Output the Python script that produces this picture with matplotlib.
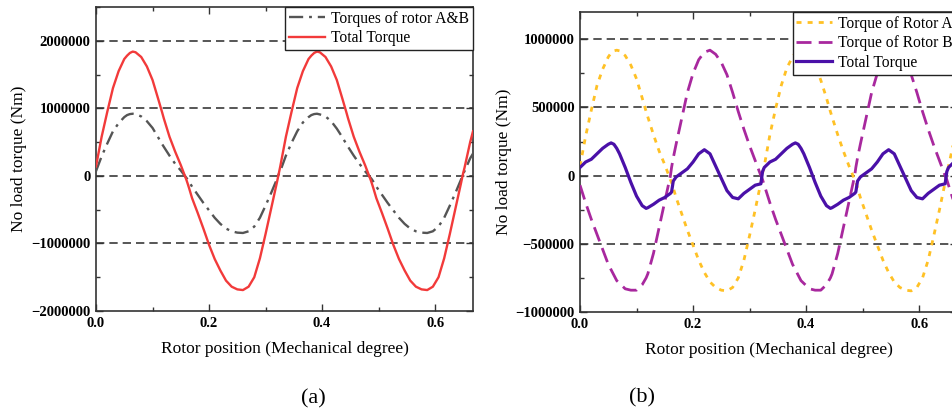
import numpy as np
import matplotlib
matplotlib.use('Agg')
import matplotlib.pyplot as plt
from matplotlib.ticker import MultipleLocator, ScalarFormatter

# rotor position (mechanical degree), shared by both panels
rotor_pos = [0.000, 0.010, 0.020, 0.030, 0.040, 0.050, 0.055, 0.060, 0.065, 0.070,
             0.080, 0.090, 0.100, 0.110, 0.117, 0.120, 0.130, 0.140, 0.150, 0.160,
             0.162, 0.165, 0.170, 0.180, 0.190, 0.200, 0.210, 0.220, 0.230, 0.240,
             0.250, 0.260, 0.270, 0.280, 0.290, 0.300, 0.310, 0.320, 0.323,
             0.326, 0.336, 0.346, 0.356, 0.366, 0.376, 0.381, 0.386, 0.391, 0.396,
             0.406, 0.416, 0.426, 0.436, 0.443, 0.446, 0.456, 0.466, 0.476, 0.486,
             0.488, 0.491, 0.496, 0.506, 0.516, 0.526, 0.536, 0.546, 0.556, 0.566,
             0.576, 0.586, 0.596, 0.606, 0.616, 0.626, 0.636, 0.646, 0.649,
             0.652, 0.662, 0.667]

# (a) torques in MNm
torque_ab = [0.07, 0.29, 0.48, 0.66, 0.78, 0.87, 0.90, 0.915, 0.92, 0.915,
             0.88, 0.81, 0.71, 0.57, 0.47, 0.43, 0.30, 0.18, 0.08, -0.03,
             -0.05, -0.09, -0.16, -0.28, -0.40, -0.51, -0.62, -0.71, -0.78, -0.82,
             -0.84, -0.845, -0.82, -0.75, -0.62, -0.44, -0.25, -0.05, 0.02,
             0.07, 0.30, 0.49, 0.66, 0.79, 0.87, 0.90, 0.915, 0.92, 0.91,
             0.88, 0.81, 0.70, 0.57, 0.47, 0.43, 0.30, 0.18, 0.07, -0.03,
             -0.05, -0.09, -0.16, -0.28, -0.40, -0.51, -0.62, -0.71, -0.78, -0.82,
             -0.84, -0.845, -0.82, -0.75, -0.62, -0.44, -0.25, -0.05, 0.02,
             0.07, 0.26, 0.33]
total_a = [0.14, 0.58, 0.95, 1.30, 1.55, 1.73, 1.78, 1.82, 1.84, 1.83,
           1.76, 1.62, 1.42, 1.14, 0.94, 0.85, 0.58, 0.36, 0.16, -0.06,
           -0.11, -0.19, -0.33, -0.55, -0.78, -1.02, -1.23, -1.40, -1.55, -1.64,
           -1.68, -1.69, -1.64, -1.50, -1.22, -0.86, -0.48, -0.10, 0.02,
           0.14, 0.58, 0.95, 1.30, 1.55, 1.73, 1.78, 1.82, 1.84, 1.83,
           1.76, 1.62, 1.42, 1.14, 0.94, 0.85, 0.58, 0.36, 0.16, -0.06,
           -0.11, -0.19, -0.33, -0.55, -0.78, -1.02, -1.23, -1.40, -1.55, -1.64,
           -1.68, -1.69, -1.64, -1.50, -1.22, -0.86, -0.48, -0.10, 0.02,
           0.12, 0.50, 0.66]

# (b) torques in MNm
torque_a = [0.07, 0.29, 0.48, 0.66, 0.78, 0.87, 0.90, 0.915, 0.92, 0.915,
            0.88, 0.81, 0.71, 0.57, 0.47, 0.43, 0.30, 0.18, 0.08, -0.03,
            -0.05, -0.09, -0.16, -0.28, -0.40, -0.51, -0.62, -0.71, -0.78, -0.82,
            -0.84, -0.845, -0.82, -0.75, -0.62, -0.44, -0.25, -0.05, 0.02,
            0.07, 0.30, 0.49, 0.66, 0.79, 0.87, 0.90, 0.915, 0.92, 0.91,
            0.88, 0.81, 0.70, 0.57, 0.47, 0.43, 0.30, 0.18, 0.07, -0.03,
            -0.05, -0.09, -0.16, -0.28, -0.40, -0.51, -0.62, -0.71, -0.78, -0.82,
            -0.84, -0.845, -0.82, -0.75, -0.62, -0.44, -0.25, -0.05, 0.02,
            0.07, 0.26, 0.33]
torque_b = [-0.07, -0.20, -0.32, -0.43, -0.54, -0.65, -0.69, -0.73, -0.77, -0.79,
            -0.83, -0.84, -0.84, -0.80, -0.75, -0.72, -0.57, -0.38, -0.19, 0.00,
            0.06, 0.13, 0.23, 0.42, 0.61, 0.75, 0.85, 0.905, 0.92, 0.89,
            0.83, 0.74, 0.61, 0.47, 0.34, 0.22, 0.11, 0.00, -0.03,
            -0.07, -0.20, -0.32, -0.43, -0.54, -0.65, -0.69, -0.73, -0.77, -0.79,
            -0.83, -0.84, -0.84, -0.80, -0.75, -0.72, -0.57, -0.38, -0.19, 0.00,
            0.06, 0.13, 0.23, 0.42, 0.61, 0.75, 0.85, 0.905, 0.92, 0.89,
            0.83, 0.74, 0.61, 0.47, 0.34, 0.22, 0.11, 0.00, -0.03,
            -0.07, -0.20, -0.26]
total_b = [0.06, 0.10, 0.12, 0.16, 0.20, 0.23, 0.24, 0.23, 0.20, 0.16,
           0.06, -0.05, -0.15, -0.22, -0.24, -0.235, -0.21, -0.18, -0.16, -0.13,
           -0.12, -0.04, -0.01, 0.02, 0.05, 0.10, 0.16, 0.19, 0.16, 0.07,
           -0.02, -0.11, -0.16, -0.17, -0.13, -0.10, -0.07, -0.06, 0.03,
           0.06, 0.10, 0.12, 0.16, 0.20, 0.23, 0.24, 0.23, 0.20, 0.16,
           0.06, -0.05, -0.15, -0.22, -0.24, -0.235, -0.21, -0.18, -0.16, -0.13,
           -0.12, -0.04, -0.01, 0.02, 0.05, 0.10, 0.16, 0.19, 0.16, 0.07,
           -0.02, -0.11, -0.16, -0.17, -0.13, -0.10, -0.07, -0.06, 0.03,
           0.06, 0.10, 0.11]

x = np.array(rotor_pos)
mnm = 1e6

plt.rcParams['font.family'] = ['Liberation Serif', 'DejaVu Serif']
plt.rcParams['axes.unicode_minus'] = True

fig = plt.figure(figsize=(9.52, 4.2), dpi=100)
ax1 = fig.add_axes([96 / 952, 1 - 311 / 420, 377 / 952, 304 / 420])
ax2 = fig.add_axes([580 / 952, 1 - 312 / 420, 377 / 952, 300 / 420])

grid_kw = dict(color='#3a3a3a', lw=1.2, dashes=(5, 3), zorder=1)


def style_axes(ax, ymaj, ymin):
    ax.set_xlim(0, 0.667)
    ax.xaxis.set_major_locator(MultipleLocator(0.2))
    ax.xaxis.set_minor_locator(MultipleLocator(0.1))
    ax.yaxis.set_major_locator(MultipleLocator(ymaj))
    ax.yaxis.set_minor_locator(MultipleLocator(ymin))
    fmt = ScalarFormatter(useOffset=False)
    fmt.set_scientific(False)
    ax.yaxis.set_major_formatter(fmt)
    ax.tick_params(which='both', direction='in', top=True, right=True,
                   color='#333333', width=1.0)
    ax.tick_params(which='major', length=5, pad=4)
    ax.tick_params(which='minor', length=3)
    for lab in ax.get_xticklabels() + ax.get_yticklabels():
        lab.set_fontweight('bold')
        lab.set_fontsize(10.5)
    for sp in ax.spines.values():
        sp.set_color('#333333')
        sp.set_linewidth(1.2)
    ax.set_xlabel('Rotor position (Mechanical degree)', fontsize=12.5, labelpad=8)
    ax.set_ylabel('No load torque (Nm)', fontsize=12.5)


# panel (a)
ax1.set_ylim(-2000000, 2500000)
for yv in [-1000000, 0, 1000000, 2000000]:
    ax1.axhline(yv, **grid_kw)
ax1.plot(x, np.array(torque_ab) * mnm, color='#555555', lw=1.7,
         dashes=(6, 2.5, 1.2, 2.5), label='Torques of rotor A&B', zorder=3)
ax1.plot(x, np.array(total_a) * mnm, color='#f23a3a', lw=1.7,
         label='Total Torque', zorder=4)
style_axes(ax1, 1000000, 500000)
ax1.yaxis.set_label_coords(-0.183, 0.5)

# panel (b)
ax2.set_ylim(-1000000, 1200000)
for yv in [-500000, 0, 500000, 1000000]:
    ax2.axhline(yv, **grid_kw)
ax2.plot(x, np.array(torque_a) * mnm, color='#ffc125', lw=2.0,
         dashes=(1.8, 2.2), label='Torque of Rotor A', zorder=3)
ax2.plot(x, np.array(torque_b) * mnm, color='#a8289e', lw=2.0,
         dashes=(5.4, 2.6), label='Torque of Rotor B', zorder=3)
ax2.plot(x, np.array(total_b) * mnm, color='#4a10a8', lw=2.3,
         label='Total Torque', zorder=4)
style_axes(ax2, 500000, 250000)
ax2.yaxis.set_label_coords(-0.180, 0.5)

for ax in (ax1, ax2):
    leg = ax.legend(loc='upper right', borderaxespad=0, fancybox=False,
                    framealpha=1, edgecolor='#222222', fontsize=11.2,
                    handlelength=2.3, handletextpad=0.4, labelspacing=0.22,
                    borderpad=0.25)
    leg.get_frame().set_linewidth(1.0)

fig.text(313 / 952, 1 - 399 / 420, '(a)', fontsize=16, ha='center', va='center')
fig.text(642 / 952, 1 - 398 / 420, '(b)', fontsize=16, ha='center', va='center')

fig.savefig('out.png', dpi=100)
